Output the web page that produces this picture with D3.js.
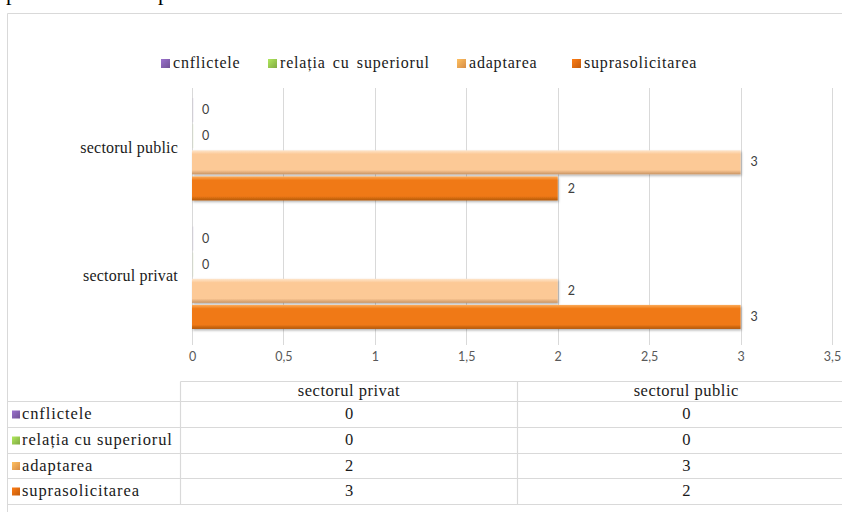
<!DOCTYPE html>
<html>
<head>
<meta charset="utf-8">
<script src="https://cdn.jsdelivr.net/npm/d3@7"></script>
<style>
  html, body { margin: 0; padding: 0; background: #fff; }
  svg { display: block; }
  .serif { font-family: "Liberation Serif", "DejaVu Serif", "Times New Roman", serif; }
  .sans { font-family: Lato, "Open Sans", sans-serif; }
</style>
</head>
<body>
<svg id="chart" width="842" height="512"></svg>
<script>
// Categories (bottom to top as in the chart) and series
const categories = ["sectorul privat", "sectorul public"];
const seriesNames = ["cnflictele", "relația cu superiorul", "adaptarea", "suprasolicitarea"];
const valuesPrivat = [0, 0, 2, 3];
const valuesPublic = [0, 0, 3, 2];
const xTickValues = [0, 0.5, 1, 1.5, 2, 2.5, 3, 3.5];

const values = { "sectorul privat": valuesPrivat, "sectorul public": valuesPublic };

const barColors = {
  "cnflictele":            { top: "#b89ad6", mid: "#8064a2", bot: "#5b4575" },
  "relația cu superiorul": { top: "#c6e08f", mid: "#9bbb59", bot: "#6f8a3a" },
  "adaptarea":             { top: "#fee6cc", mid: "#fcc996", bot: "#c99463" },
  "suprasolicitarea":      { top: "#fbab5a", mid: "#f07914", bot: "#b2580c" }
};
const legendColors = {
  "cnflictele": "#7d5ba6",
  "relația cu superiorul": "#8fbc4b",
  "adaptarea": "#ee9c4e",
  "suprasolicitarea": "#d8650f"
};

const svg = d3.select("#chart");
const defs = svg.append("defs");

// vertical bevel gradients for the bars
seriesNames.forEach((s, i) => {
  const c = barColors[s];
  const g = defs.append("linearGradient").attr("id", "bar" + i)
    .attr("x1", 0).attr("y1", 0).attr("x2", 0).attr("y2", 1);
  g.append("stop").attr("offset", "0%").attr("stop-color", c.top);
  g.append("stop").attr("offset", "16%").attr("stop-color", c.mid);
  g.append("stop").attr("offset", "82%").attr("stop-color", c.mid);
  g.append("stop").attr("offset", "100%").attr("stop-color", c.bot);
  const lg = defs.append("linearGradient").attr("id", "leg" + i)
    .attr("x1", 0).attr("y1", 0).attr("x2", 1).attr("y2", 1);
  lg.append("stop").attr("offset", "0%").attr("stop-color", d3.color(legendColors[s]).brighter(0.6));
  lg.append("stop").attr("offset", "100%").attr("stop-color", d3.color(legendColors[s]).darker(0.3));
});
const shadow = defs.append("filter").attr("id", "shadow")
  .attr("x", "-5%").attr("y", "-20%").attr("width", "110%").attr("height", "160%");
shadow.append("feDropShadow").attr("dx", 1).attr("dy", 1.5).attr("stdDeviation", 1)
  .attr("flood-color", "#000").attr("flood-opacity", 0.3);

// caption line above the chart frame (only its lower part is on the page)
svg.append("text").attr("class", "serif").attr("x", 6).attr("y", 0)
  .attr("font-size", 22).attr("fill", "#000")
  .text("pentru a sectorul privat");

// chart frame
svg.append("path").attr("d", "M7.5,512 V13.5 H842")
  .attr("fill", "none").attr("stroke", "#d9d9d9").attr("stroke-width", 1);

// scales
const x = d3.scaleLinear().domain([0, 3.5]).range([192, 832]);
const y = d3.scaleBand().domain(categories.slice().reverse()).range([88, 345]);
const yInner = d3.scaleBand().domain(seriesNames)
  .range([9, y.bandwidth() - 15]).paddingInner(0.08).paddingOuter(0.04);

// gridlines
svg.append("g").selectAll("line").data(xTickValues).join("line")
  .attr("x1", d => Math.round(x(d)) + 0.5).attr("x2", d => Math.round(x(d)) + 0.5)
  .attr("y1", 88).attr("y2", 345)
  .attr("stroke", "#d9d9d9").attr("stroke-width", 1);

// x axis tick labels
const xAxis = d3.axisBottom(x).tickValues(xTickValues).tickSize(0)
  .tickFormat(d => String(d).replace(".", ","));
const gx = svg.append("g").attr("transform", "translate(0,346)").call(xAxis);
gx.select(".domain").remove();
gx.attr("font-family", null);
gx.selectAll("text").attr("class", "sans").attr("font-size", 12.5)
  .attr("fill", "#595959").attr("dy", "0.95em");

// category labels
svg.append("g").selectAll("text").data(categories).join("text")
  .attr("class", "serif")
  .attr("x", 178).attr("y", d => y(d) + y.bandwidth() / 2 - 3)
  .attr("text-anchor", "end").attr("dominant-baseline", "middle")
  .attr("font-size", 16).attr("fill", "#1a1a1a").attr("letter-spacing", 0.2)
  .text(d => d);

// bars
const rows = [];
categories.forEach(cat => seriesNames.forEach((s, i) =>
  rows.push({ cat, s, i, v: values[cat][i] })));

const bars = svg.append("g");
bars.selectAll("rect").data(rows.filter(d => d.v > 0)).join("rect")
  .attr("x", x(0)).attr("y", d => y(d.cat) + yInner(d.s))
  .attr("width", d => x(d.v) - x(0)).attr("height", yInner.bandwidth())
  .attr("fill", d => `url(#bar${d.i})`).attr("filter", "url(#shadow)");
// zero-value bars show as a faint hairline
bars.selectAll("line").data(rows.filter(d => d.v === 0)).join("line")
  .attr("x1", x(0) + 1).attr("x2", x(0) + 1)
  .attr("y1", d => y(d.cat) + yInner(d.s)).attr("y2", d => y(d.cat) + yInner(d.s) + yInner.bandwidth())
  .attr("stroke", d => barColors[d.s].mid).attr("stroke-opacity", 0.15);

// value labels
svg.append("g").selectAll("text").data(rows).join("text")
  .attr("class", "sans")
  .attr("x", d => x(d.v) + 10)
  .attr("y", d => y(d.cat) + yInner(d.s) + yInner.bandwidth() / 2 + 1)
  .attr("dominant-baseline", "middle")
  .attr("font-size", 12.5).attr("fill", "#404040")
  .text(d => d.v);

// legend
const legendX = [161, 268, 457, 572];
const legend = svg.append("g").selectAll("g").data(seriesNames).join("g")
  .attr("transform", (d, i) => `translate(${legendX[i]},64)`);
legend.append("rect").attr("x", 0).attr("y", -5).attr("width", 9).attr("height", 9)
  .attr("fill", (d, i) => `url(#leg${i})`);
legend.append("text").attr("class", "serif").attr("x", 12).attr("y", 0)
  .attr("dominant-baseline", "middle")
  .attr("font-size", 16).attr("fill", "#1a1a1a")
  .attr("letter-spacing", 0.8).attr("word-spacing", 2.5)
  .text(d => d);

// data table under the chart
const tbl = svg.append("g");
const colX = [7.5, 180.5, 517.5, 855];
const rowY = [381.5, 401.5, 427.5, 453.5, 478.5, 504.5];
const line = (x1, y1, x2, y2) => tbl.append("line")
  .attr("x1", x1).attr("y1", y1).attr("x2", x2).attr("y2", y2)
  .attr("stroke", "#d9d9d9").attr("stroke-width", 1.2);
line(colX[1], rowY[0], 842, rowY[0]);
rowY.slice(1).forEach(yy => line(colX[0], yy, 842, yy));
line(colX[1], rowY[0], colX[1], rowY[5]);
line(colX[2], rowY[0], colX[2], rowY[5]);

const colCats = ["sectorul privat", "sectorul public"];
tbl.selectAll("text.hdr").data(colCats).join("text")
  .attr("class", "hdr serif")
  .attr("x", (d, i) => (colX[i + 1] + colX[i + 2]) / 2)
  .attr("y", (rowY[0] + rowY[1]) / 2 + 1)
  .attr("text-anchor", "middle").attr("dominant-baseline", "middle")
  .attr("font-size", 16.5).attr("fill", "#1a1a1a").attr("letter-spacing", 0.5)
  .text(d => d);

seriesNames.forEach((s, i) => {
  const cy = (rowY[i + 1] + rowY[i + 2]) / 2 + 1;
  tbl.append("rect").attr("x", 12).attr("y", cy - 5).attr("width", 8).attr("height", 8)
    .attr("fill", `url(#leg${i})`);
  tbl.append("text").attr("class", "serif").attr("x", 22).attr("y", cy)
    .attr("dominant-baseline", "middle")
    .attr("font-size", 16.5).attr("fill", "#1a1a1a")
    .attr("letter-spacing", 0.9)
    .text(s);
  colCats.forEach((cat, j) => {
    tbl.append("text").attr("class", "serif")
      .attr("x", (colX[j + 1] + colX[j + 2]) / 2).attr("y", cy)
      .attr("text-anchor", "middle").attr("dominant-baseline", "middle")
      .attr("font-size", 16.5).attr("fill", "#1a1a1a")
      .text(values[cat][i]);
  });
});
</script>
</body>
</html>
